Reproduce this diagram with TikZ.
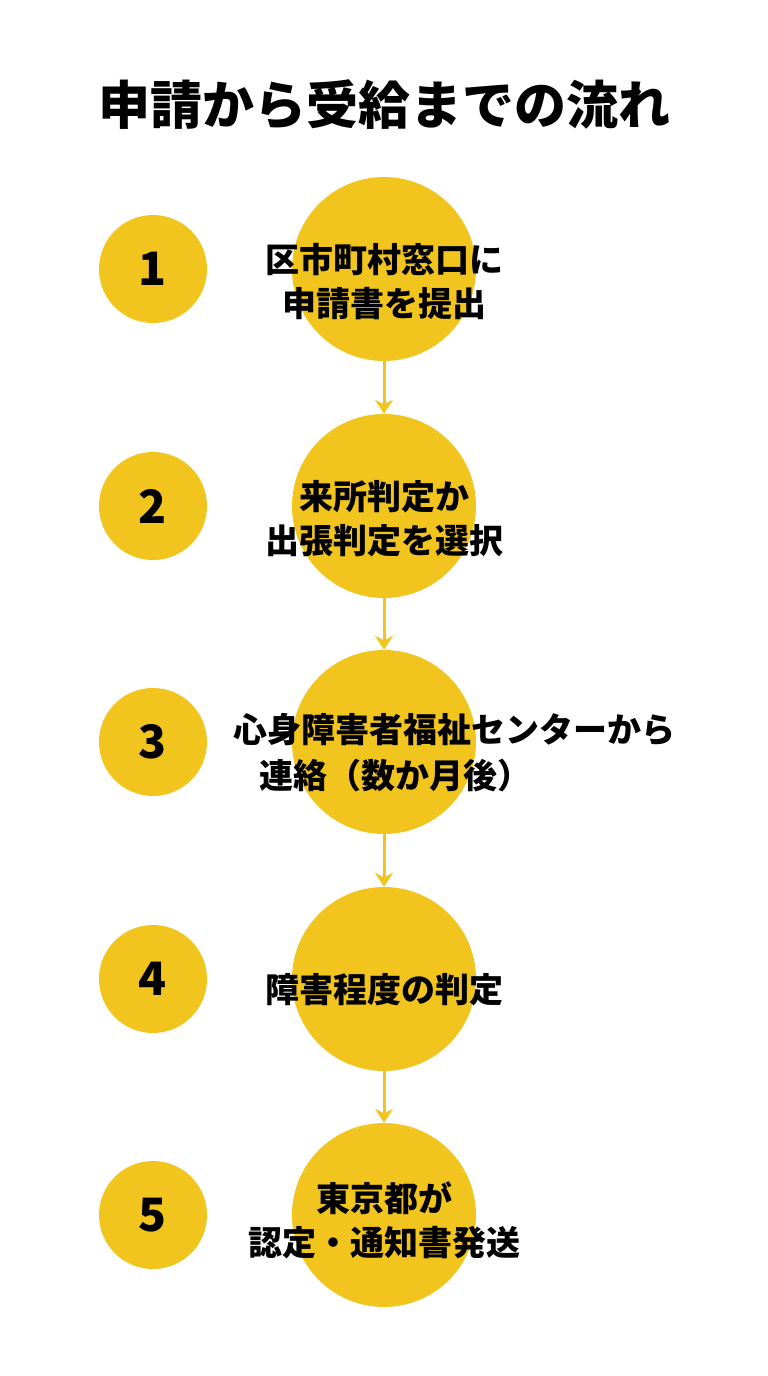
\documentclass[tikz,border=0pt]{standalone}
\usepackage{fontspec}
\setmainfont{Noto Sans CJK JP}
\usetikzlibrary{arrows.meta}
\definecolor{yel}{HTML}{F2C51E}
\begin{document}
\begin{tikzpicture}[x=1pt,y=-1pt,
  big/.style={circle,fill=yel,minimum size=184pt,inner sep=0pt},
  small/.style={circle,fill=yel,minimum size=108pt,inner sep=0pt,font=\bfseries\fontsize{46}{46}\selectfont},
  lab/.style={font=\bfseries\fontsize{34}{44}\selectfont,align=center},
  arr/.style={draw=yel,line width=3pt,-{Stealth[length=14pt,width=18pt]}}]
\useasboundingbox (0,0) rectangle (768,1376);
\node[font=\bfseries\fontsize{52}{52}\selectfont] (title) at (384,105) {申請から受給までの流れ};
\foreach \i/\y in {1/269,2/506,3/742,4/979,5/1215}{
  \node[big] (b\i) at (384,\y) {};
  \node[small] (s\i) at (153,\y) {\i};
}
\node[lab] (t1) at (384,282) {区市町村窓口に\\申請書を提出};
\node[lab] (t2) at (384,519) {来所判定か\\出張判定を選択};
\node[lab,anchor=west] (t3a) at (230,730) {心身障害者福祉センターから};
\node[lab,anchor=west] (t3b) at (256,776) {連絡（数か月後）};
\node[lab] (t4) at (384,990) {障害程度の判定};
\node[lab] (t5) at (384,1220) {東京都が\\認定・通知書発送};
\foreach \a/\b in {1/2,2/3,3/4,4/5}{
  \draw[arr] (b\a.south) -- (b\b.north);
}
\end{tikzpicture}
\end{document}
